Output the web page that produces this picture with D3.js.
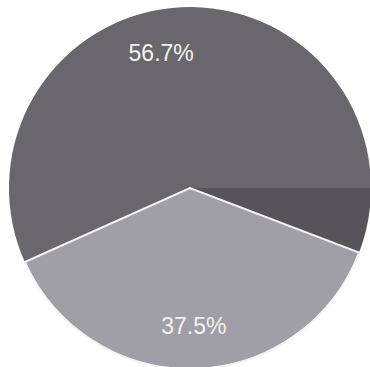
<!DOCTYPE html>
<html><head><meta charset="utf-8">
<script src="https://cdn.jsdelivr.net/npm/d3@7"></script>
<style>html,body{margin:0;padding:0;background:#fff;}svg{display:block;}</style>
</head><body>
<svg id="c" width="370" height="367"></svg>
<script>
const categories = ["A", "B", "C"];
const values = [5.8, 37.5, 56.7];
const labels = ["", "37.5%", "56.7%"];
const colors = ["#56545a", "#a09ea6", "#69676d"];

const svg = d3.select("#c");
const cx = 190, cy = 188, r = 181;
const g = svg.append("g").attr("transform", `translate(${cx},${cy})`);

const pie = d3.pie().sort(null).value(d => d)
  .startAngle(Math.PI / 2).endAngle(Math.PI / 2 + 2 * Math.PI);
const arcs = pie(values);
const arc = d3.arc().innerRadius(0).outerRadius(r);
const labelArc = d3.arc().innerRadius(138).outerRadius(138);

g.selectAll("path.s").data(arcs).enter().append("path")
  .attr("class", "s")
  .attr("d", arc)
  .attr("fill", (d, i) => colors[i]);

// white separator around the light slice
g.append("path")
  .attr("d", d3.arc().innerRadius(0).outerRadius(r)(arcs[1]))
  .attr("fill", "none")
  .attr("stroke", "#f4f4f4")
  .attr("stroke-width", 2);

g.selectAll("text.l").data(arcs).enter().append("text")
  .attr("class", "l")
  .attr("transform", d => `translate(${labelArc.centroid(d)})`)
  .attr("text-anchor", "middle")
  .attr("dy", "0.36em")
  .attr("font-family", "Liberation Sans, Arial, sans-serif")
  .attr("font-size", 23)
  .attr("fill", "#f2f2f2")
  .text((d, i) => labels[i]);
</script>
</body></html>
